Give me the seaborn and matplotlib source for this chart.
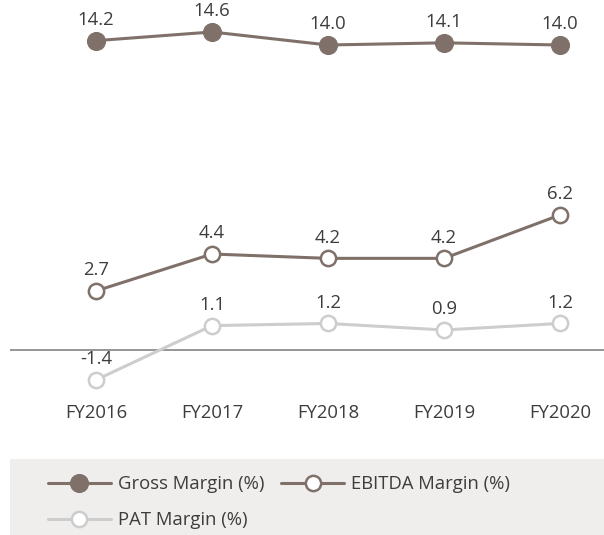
import matplotlib
matplotlib.use("Agg")
import matplotlib.pyplot as plt
import seaborn as sns
import pandas as pd
from matplotlib.patches import Rectangle

sns.set_theme(style="white")
plt.rcParams['font.family'] = ['Open Sans', 'DejaVu Sans']

years = ["FY2016", "FY2017", "FY2018", "FY2019", "FY2020"]
gross = [14.2, 14.6, 14.0, 14.1, 14.0]
ebitda = [2.7, 4.4, 4.2, 4.2, 6.2]
pat = [-1.4, 1.1, 1.2, 0.9, 1.2]

BROWN = "#7f7169"
GRAY = "#cdcdcd"
TXT = "#3d3d3d"
FS = 13.3

W, H = 604, 535
fig = plt.figure(figsize=(W / 100, H / 100), dpi=100)

def fx(px): return px / W
def fy(py): return 1 - py / H

ax_top = fig.add_axes([fx(10), fy(100), fx(594), 100 / H])
ax_bot = fig.add_axes([fx(10), fy(400), fx(594), 210 / H])

scale = 21.7  # px per unit
xl = (-86 / 116, 4 + 44 / 116)

df_g = pd.DataFrame({"year": years, "v": gross})
df_e = pd.DataFrame({"year": years, "v": ebitda})
df_p = pd.DataFrame({"year": years, "v": pat})

ax_bot.axhline(0, color="#8e8e8e", lw=1.3, zorder=1)

sns.lineplot(data=df_g, x="year", y="v", ax=ax_top, color=BROWN, lw=2.2,
             marker="o", markersize=13, markerfacecolor=BROWN, markeredgecolor=BROWN,
             label="Gross Margin (%)", zorder=3)
sns.lineplot(data=df_e, x="year", y="v", ax=ax_bot, color=BROWN, lw=2.2,
             marker="o", markersize=11, markerfacecolor="white", markeredgecolor=BROWN,
             markeredgewidth=1.8, label="EBITDA Margin (%)", zorder=3)
sns.lineplot(data=df_p, x="year", y="v", ax=ax_bot, color=GRAY, lw=2.2,
             marker="o", markersize=11, markerfacecolor="white", markeredgecolor=GRAY,
             markeredgewidth=1.8, label="PAT Margin (%)", zorder=2)

# limits
ax_top.set_xlim(*xl)
ax_top.set_ylim(14.0 - 55 / scale, 14.0 + 45 / scale)
ax_bot.set_xlim(*xl)
ax_bot.set_ylim(-(400 - 349.5) / scale, (349.5 - 190) / scale)

for ax, vals_list in ((ax_top, [gross]), (ax_bot, [ebitda, pat])):
    for vals in vals_list:
        for i, v in enumerate(vals):
            ax.annotate(f"{v:.1f}", (i, v), xytext=(0, 15), textcoords="offset points",
                        ha="center", va="center", fontsize=FS, color=TXT)
    for s in ax.spines.values():
        s.set_visible(False)
    ax.set_yticks([])
    ax.set_xlabel("")
    ax.set_ylabel("")
    ax.patch.set_alpha(0)

ax_top.set_xticks([])
ax_bot.tick_params(axis="x", length=0, pad=3, labelsize=FS, labelcolor=TXT)

h1, l1 = ax_top.get_legend_handles_labels()
h2, l2 = ax_bot.get_legend_handles_labels()
ax_top.get_legend().remove()
ax_bot.get_legend().remove()
handles = [h1[0], h2[1], h2[0]]
labels = [l1[0], l2[1], l2[0]]

fig.patches.append(Rectangle((fx(10), 0), fx(594), 76 / H, transform=fig.transFigure,
                             facecolor="#efeeec", edgecolor="none", zorder=0))
leg = fig.legend(handles, labels, ncol=2, loc="upper left",
                 bbox_to_anchor=(fx(48), fy(475)), frameon=False, borderpad=0,
                 borderaxespad=0, handlelength=3.4, handletextpad=0.4,
                 columnspacing=0.9, labelspacing=1.0, fontsize=FS)
for t in leg.get_texts():
    t.set_color(TXT)

fig.savefig("out.png", dpi=100)
